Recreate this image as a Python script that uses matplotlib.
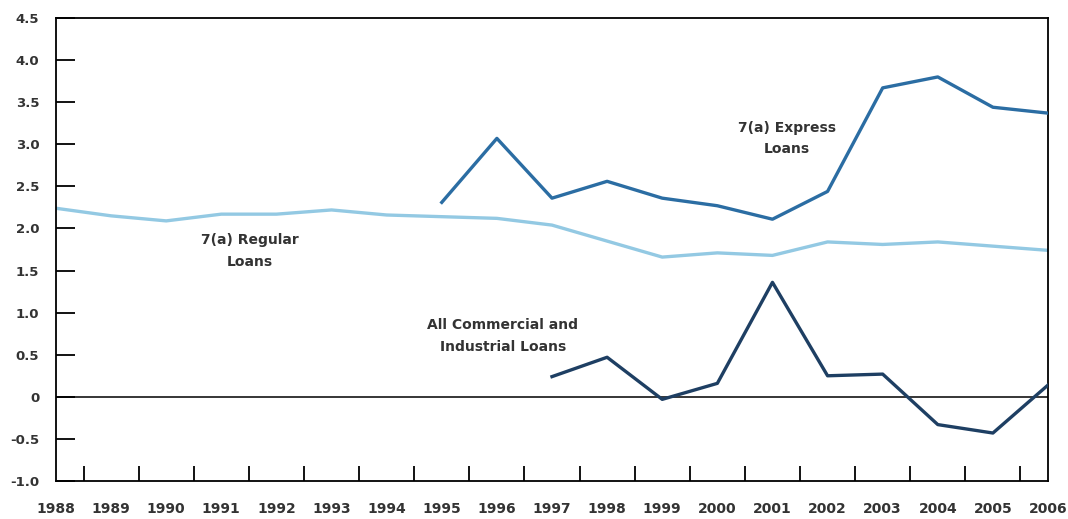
import matplotlib.pyplot as plt

# Годы и значения трёх рядов
years = list(range(1988, 2007))
regular = [2.24, 2.15, 2.09, 2.17, 2.17, 2.22, 2.16, 2.14, 2.12, 2.04,
           1.85, 1.66, 1.71, 1.68, 1.84, 1.81, 1.84, 1.79, 1.74]
express_years = list(range(1995, 2007))
express = [2.31, 3.07, 2.36, 2.56, 2.36, 2.27, 2.11, 2.44, 3.67, 3.80, 3.44, 3.37]
commercial_years = list(range(1997, 2007))
commercial = [0.24, 0.47, -0.03, 0.16, 1.36, 0.25, 0.27, -0.33, -0.43, 0.14]

y_ticks = [-1.0, -0.5, 0, 0.5, 1.0, 1.5, 2.0, 2.5, 3.0, 3.5, 4.0, 4.5]
y_labels = ['-1.0', '-0.5', '0', '0.5', '1.0', '1.5', '2.0', '2.5', '3.0', '3.5', '4.0', '4.5']

text_color = '#333333'

fig = plt.figure(figsize=(10.68, 5.19), dpi=100)
ax = fig.add_axes([0.0524, 0.0732, 0.9289, 0.8921])

ax.axhline(0, color='black', linewidth=1.1, zorder=1)
ax.plot(years, regular, color='#93c9e3', linewidth=2.4, zorder=2)
ax.plot(express_years, express, color='#2b6da3', linewidth=2.4, zorder=3)
ax.plot(commercial_years, commercial, color='#1e3f63', linewidth=2.4, zorder=3)

ax.set_xlim(1988, 2006)
ax.set_ylim(-1.0, 4.5)

# Подписи годов по центру, метки между годами
ax.set_xticks(years)
ax.set_xticklabels([str(y) for y in years])
ax.set_xticks([y + 0.5 for y in years[:-1]], minor=True)
ax.tick_params(axis='x', which='major', length=0, pad=15)
ax.tick_params(axis='x', which='minor', direction='in', length=11, width=1.3, color='black')

ax.set_yticks(y_ticks)
ax.set_yticklabels(y_labels)
ax.tick_params(axis='y', direction='in', length=14, width=1.3, pad=12)

for lab in ax.get_xticklabels():
    lab.set_fontsize(10)
    lab.set_fontweight('bold')
    lab.set_color(text_color)
for lab in ax.get_yticklabels():
    lab.set_fontsize(9.5)
    lab.set_fontweight('bold')
    lab.set_color(text_color)

for spine in ax.spines.values():
    spine.set_linewidth(1.3)
    spine.set_color('black')

# Подписи рядов
ax.text(1991.52, 1.73, '7(a) Regular\nLoans', ha='center', va='center',
        fontsize=10, fontweight='bold', color=text_color, linespacing=1.7)
ax.text(2001.26, 3.07, '7(a) Express\nLoans', ha='center', va='center',
        fontsize=10, fontweight='bold', color=text_color, linespacing=1.7)
ax.text(1996.11, 0.72, 'All Commercial and\nIndustrial Loans', ha='center', va='center',
        fontsize=10, fontweight='bold', color=text_color, linespacing=1.7)

fig.savefig('out.png', dpi=100)
